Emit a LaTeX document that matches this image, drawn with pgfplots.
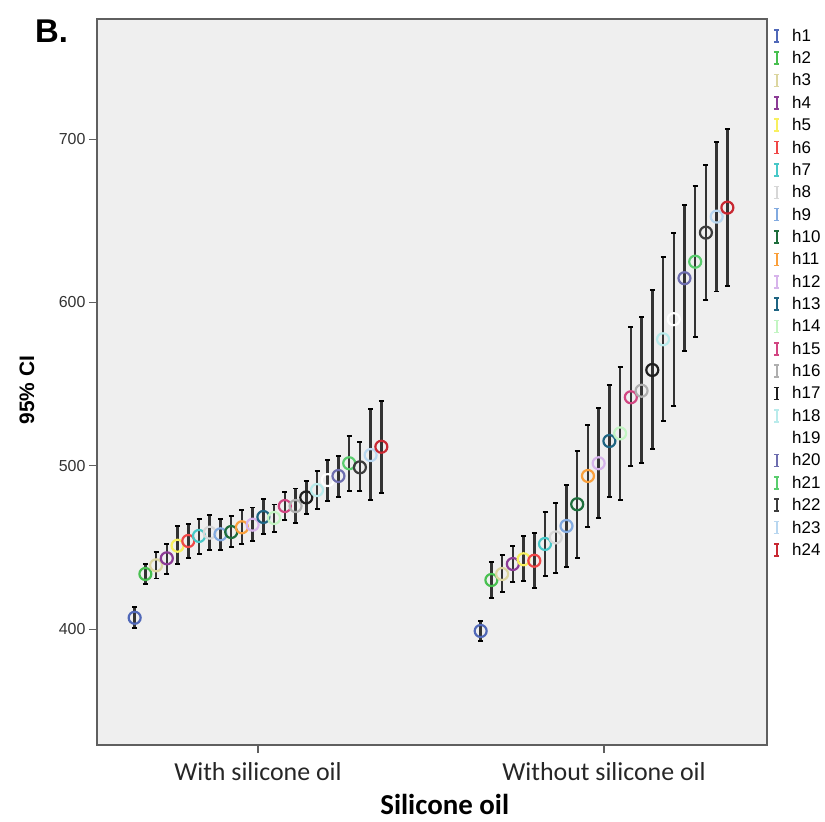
\documentclass[border=0pt]{standalone}
\usepackage{pgfplots}
\pgfplotsset{compat=1.18}
\usepackage{fontspec}
\setmainfont{Liberation Sans}
\newfontfamily\carlito{Carlito}
\definecolor{bg}{RGB}{239,239,239}
\definecolor{framec}{RGB}{95,95,95}
\definecolor{c1}{HTML}{5068B8}
\definecolor{c2}{HTML}{48C050}
\definecolor{c3}{HTML}{DCD6A0}
\definecolor{c4}{HTML}{8C3C96}
\definecolor{c5}{HTML}{F8F060}
\definecolor{c6}{HTML}{F04848}
\definecolor{c7}{HTML}{48C8C8}
\definecolor{c8}{HTML}{D7D7D7}
\definecolor{c9}{HTML}{82AAE0}
\definecolor{c10}{HTML}{1E6E3C}
\definecolor{c11}{HTML}{FAA03C}
\definecolor{c12}{HTML}{D7B4EB}
\definecolor{c13}{HTML}{1E6482}
\definecolor{c14}{HTML}{C3F5C3}
\definecolor{c15}{HTML}{D24682}
\definecolor{c16}{HTML}{AFAFAF}
\definecolor{c17}{HTML}{1E1E1E}
\definecolor{c18}{HTML}{B9EBEB}
\definecolor{c19}{HTML}{FFFFFF}
\definecolor{c20}{HTML}{6E6EAF}
\definecolor{c21}{HTML}{5ACD6E}
\definecolor{c22}{HTML}{3C3C3C}
\definecolor{c23}{HTML}{B9D7F0}
\definecolor{c24}{HTML}{C82832}
\pgfplotsset{
  /pgfplots/table/tb/.style={x=x,y=m,
    y error plus expr=\thisrow{hi}-\thisrow{m},
    y error minus expr=\thisrow{m}-\thisrow{lo},
    row sep=\\},
  hs/.style={color=#1, only marks, mark=o, mark size=6bp,
    mark options={line width=2.2bp, fill=none},
    error bars/.cd, y dir=both, y explicit,
    error bar style={draw=black!80, line width=2.5bp},
    error mark options={rotate=90, draw=black, mark size=2.5bp, line width=1.8bp}},
}
\begin{document}
\begin{tikzpicture}
\useasboundingbox (0bp,0bp) rectangle (825bp,822bp);
\node[anchor=base west, inner sep=0pt, font=\bfseries\fontsize{33}{33}\selectfont] at (35bp,779bp) {B.};
\begin{axis}[
  at={(97bp,77bp)}, anchor=south west,
  width=670bp, height=726bp, scale only axis,
  xmin=0.5347, xmax=2.471, ymin=329, ymax=773.5,
  axis background/.style={fill=bg},
  axis line style={draw=framec, line width=1.3bp},
  xtick={1,2}, xticklabels={With silicone oil, Without silicone oil},
  ytick={400,500,600,700},
  tick align=outside, tick pos=left,
  major tick length=8bp,
  xtick style={draw=framec, line width=1.2bp},
  ytick style={draw=framec, line width=1.0bp},
  /pgf/number format/assume math mode=true,
  yticklabel style={font=\fontsize{16}{16}\selectfont, text=black!80},
  xticklabel style={font=\carlito\fontsize{26}{26}\selectfont, text=black!85, yshift=-6bp},
  ylabel={95\% CI},
  every axis y label/.style={at={(axis description cs:-0.1045,0.489)}, rotate=90, anchor=center, font=\bfseries\fontsize{21}{21}\selectfont},
  xlabel={Silicone oil},
  every axis x label/.style={at={(axis description cs:0.519,-0.0826)}, anchor=center, font=\carlito\bfseries\fontsize{29}{29}\selectfont},
  legend cell align=left,
  legend style={at={(1,1)}, anchor=north west, xshift=6bp, yshift=-8bp,
    draw=none, fill=none, inner sep=0pt, outer sep=0pt,
    font=\fontsize{17}{17}\selectfont, row sep=4.6bp, column sep=10bp},
  legend image code/.code={
    \draw[#1, line width=2bp] (0bp,-6bp) -- (0bp,6bp);
    \draw[#1, line width=1.6bp] (-2.8bp,-6bp) -- (2.8bp,-6bp);
    \draw[#1, line width=1.6bp] (-2.8bp,6bp) -- (2.8bp,6bp);
  },
]
\addplot[hs=c1] table[tb] {x m lo hi\\ 0.6435 406.9 400.4 413.3\\ 1.6435 398.8 392.7 405.1\\};
\addlegendentry{h1}
\addplot[hs=c2] table[tb] {x m lo hi\\ 0.6745 433.7 427.6 439.8\\ 1.6745 430.0 419.2 440.8\\};
\addlegendentry{h2}
\addplot[hs=c3] table[tb] {x m lo hi\\ 0.7055 439.0 431.0 447.2\\ 1.7055 433.7 422.5 445.3\\};
\addlegendentry{h3}
\addplot[hs=c4] table[tb] {x m lo hi\\ 0.7365 443.3 433.9 452.0\\ 1.7365 439.8 429.0 451.0\\};
\addlegendentry{h4}
\addplot[hs=c5] table[tb] {x m lo hi\\ 0.7675 451.0 439.6 463.1\\ 1.7675 442.7 429.4 456.9\\};
\addlegendentry{h5}
\addplot[hs=c6] table[tb] {x m lo hi\\ 0.7985 453.9 443.3 464.3\\ 1.7985 441.8 425.3 458.6\\};
\addlegendentry{h6}
\addplot[hs=c7] table[tb] {x m lo hi\\ 0.8295 457.0 445.9 467.4\\ 1.8295 452.1 432.5 471.5\\};
\addlegendentry{h7}
\addplot[hs=c8] table[tb] {x m lo hi\\ 0.8605 459.0 448.4 469.8\\ 1.8605 456.1 434.1 477.0\\};
\addlegendentry{h8}
\addplot[hs=c9] table[tb] {x m lo hi\\ 0.8915 458.0 448.4 467.4\\ 1.8915 463.1 437.8 488.2\\};
\addlegendentry{h9}
\addplot[hs=c10] table[tb] {x m lo hi\\ 0.9225 459.4 450.0 469.2\\ 1.9225 476.4 443.7 509.0\\};
\addlegendentry{h10}
\addplot[hs=c11] table[tb] {x m lo hi\\ 0.9535 462.3 452.0 472.8\\ 1.9535 493.7 462.3 524.9\\};
\addlegendentry{h11}
\addplot[hs=c12] table[tb] {x m lo hi\\ 0.9845 463.9 453.9 474.4\\ 1.9845 501.5 468.2 535.1\\};
\addlegendentry{h12}
\addplot[hs=c13] table[tb] {x m lo hi\\ 1.0155 468.6 458.0 479.5\\ 2.0155 515.1 481.0 549.4\\};
\addlegendentry{h13}
\addplot[hs=c14] table[tb] {x m lo hi\\ 1.0465 468.0 459.6 476.2\\ 2.0465 519.8 479.0 560.6\\};
\addlegendentry{h14}
\addplot[hs=c15] table[tb] {x m lo hi\\ 1.0775 475.3 466.7 484.1\\ 2.0775 541.9 499.8 584.7\\};
\addlegendentry{h15}
\addplot[hs=c16] table[tb] {x m lo hi\\ 1.1085 475.3 464.7 486.1\\ 2.1085 545.9 501.5 590.9\\};
\addlegendentry{h16}
\addplot[hs=c17] table[tb] {x m lo hi\\ 1.1395 480.6 470.2 490.8\\ 2.1395 558.6 510.4 607.6\\};
\addlegendentry{h17}
\addplot[hs=c18] table[tb] {x m lo hi\\ 1.1705 485.1 473.3 496.8\\ 2.1705 577.4 527.4 627.6\\};
\addlegendentry{h18}
\addplot[hs=c19] table[tb] {x m lo hi\\ 1.2015 491.2 478.4 503.5\\ 2.2015 589.7 536.7 642.7\\};
\addlegendentry{h19}
\addplot[hs=c20] table[tb] {x m lo hi\\ 1.2325 493.7 481.0 505.9\\ 2.2325 614.8 570.4 659.6\\};
\addlegendentry{h20}
\addplot[hs=c21] table[tb] {x m lo hi\\ 1.2635 501.5 484.7 518.4\\ 2.2635 624.9 578.6 671.3\\};
\addlegendentry{h21}
\addplot[hs=c22] table[tb] {x m lo hi\\ 1.2945 499.0 484.7 514.7\\ 2.2945 642.7 601.5 684.1\\};
\addlegendentry{h22}
\addplot[hs=c23] table[tb] {x m lo hi\\ 1.3255 506.5 479.0 534.5\\ 2.3255 652.5 606.6 698.4\\};
\addlegendentry{h23}
\addplot[hs=c24] table[tb] {x m lo hi\\ 1.3565 511.6 483.1 539.8\\ 2.3565 658.0 610.2 706.2\\};
\addlegendentry{h24}
\end{axis}
\end{tikzpicture}
\end{document}
